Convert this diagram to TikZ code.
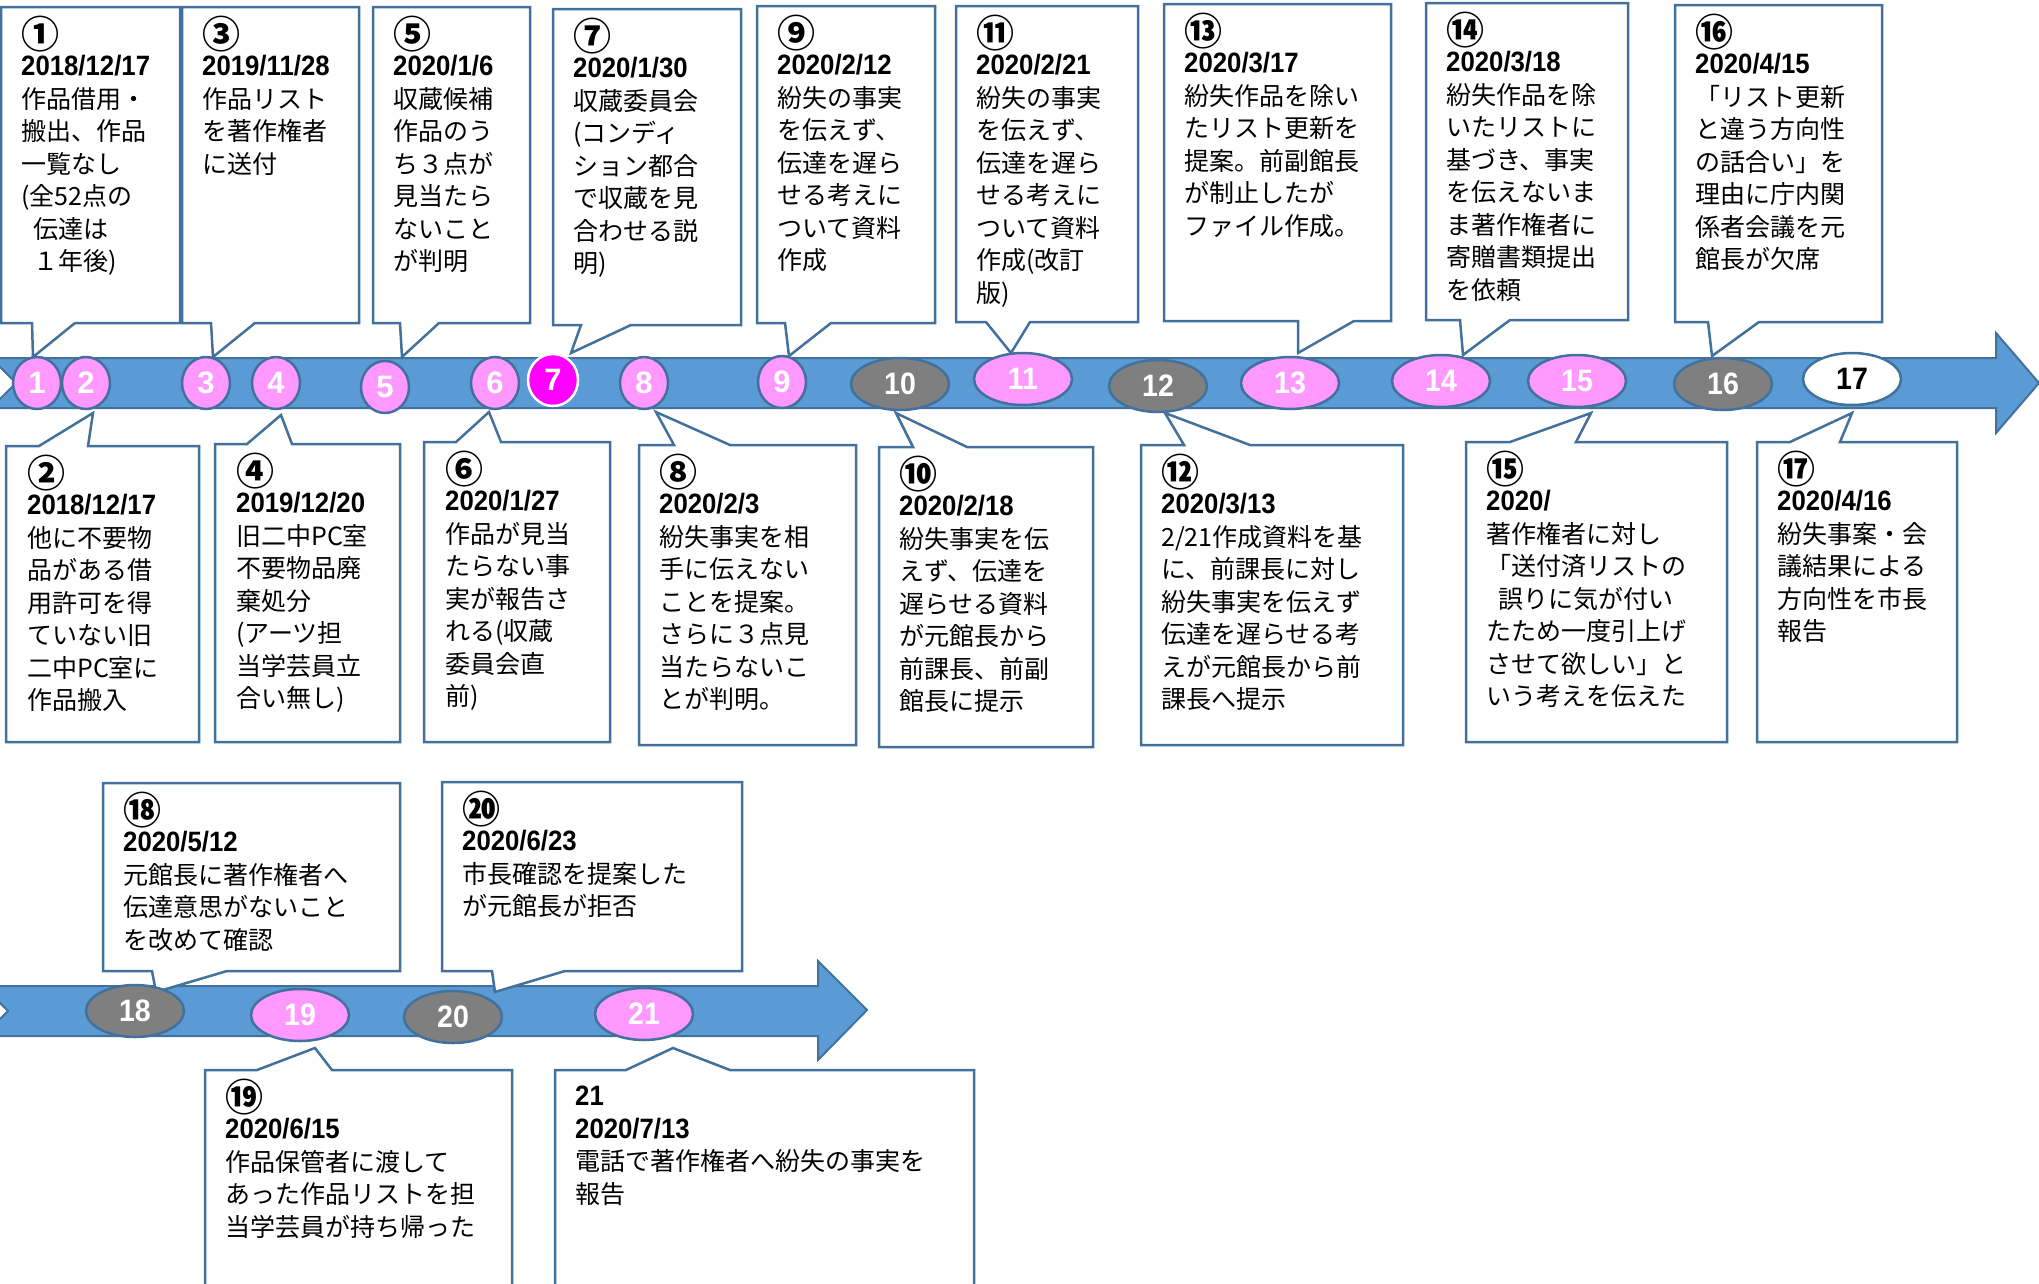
\documentclass[tikz,border=0pt]{standalone}
\usepackage{fontspec}
\newfontfamily\jp{Noto Sans CJK JP}
\newfontfamily\dtf[FakeStretch=0.92]{Liberation Sans}
\newfontfamily\arialf{Liberation Sans}
\usetikzlibrary{shapes.geometric}
\definecolor{bandfill}{HTML}{5B9BD5}
\definecolor{bandline}{HTML}{41719C}
\definecolor{boxline}{HTML}{41719C}
\definecolor{pinkf}{HTML}{FF99FF}
\definecolor{grayf}{HTML}{7F7F7F}
\definecolor{magf}{HTML}{FF00FF}
% callout with pointer on the bottom edge: x0 y0 x1 y1 base1 base2 tipx tipy
\newcommand{\calloutA}[8]{\filldraw[cbox] (#1,#2) -- (#3,#2) -- (#3,#4) -- (#6,#4) -- (#7,#8) -- (#5,#4) -- (#1,#4) -- cycle;}
% callout with pointer on the top edge
\newcommand{\calloutB}[8]{\filldraw[cbox] (#1,#2) -- (#5,#2) -- (#7,#8) -- (#6,#2) -- (#3,#2) -- (#3,#4) -- (#1,#4) -- cycle;}
\newcommand{\mydate}[1]{{\dtf\bfseries\fontsize{28}{32.5}\selectfont #1}}
\newcommand{\circnum}[1]{\raisebox{-5pt}[20pt][0pt]{\bfseries\fontsize{38}{38}\selectfont #1}}
\begin{document}
\begin{tikzpicture}[x=1pt,y=-1pt,
  cbox/.style={fill=white,draw=boxline,line width=2.5pt,line join=miter},
  txt/.style={anchor=north west,inner sep=0pt,align=left,font=\jp\fontsize{25}{32.5}\selectfont},
  ev/.style={ellipse,draw=bandline,line width=2.5pt,inner sep=0pt,minimum height=52pt},
  sm/.style={ev,minimum width=48pt,fill=pinkf,text=white,font=\arialf\bfseries\fontsize{31}{31}\selectfont},
  wd/.style={ev,minimum width=98pt,text=white,font=\dtf\bfseries\fontsize{31}{31}\selectfont},
  pk/.style={wd,fill=pinkf},
  gy/.style={wd,fill=grayf}]
\useasboundingbox (0,0) rectangle (2039,1283);
\fill[white] (0,0) rectangle (2039,1283);

% bands
\filldraw[fill=bandfill,draw=bandline,line width=2pt,line join=miter]
  (-9,358) -- (1996,358) -- (1996,333) -- (2039,383) -- (1996,433) -- (1996,408) -- (-9,408) -- (16,383) -- cycle;
\filldraw[fill=bandfill,draw=bandline,line width=2pt,line join=miter]
  (-17,986) -- (818,986) -- (818,961) -- (867,1010) -- (818,1060) -- (818,1036) -- (-17,1036) -- (8,1011) -- cycle;

% top callouts
\calloutA{1}{7}{180}{323}{32}{75}{33}{357}
\calloutA{182}{7}{359}{323}{211}{255}{213}{357}
\calloutA{373}{7}{530}{323}{400}{439}{402}{357}
\calloutA{553}{9}{741}{325}{581}{631}{571}{353}
\calloutA{757}{6}{935}{323}{785}{831}{789}{356}
\calloutA{956}{6}{1138}{322}{986}{1030}{1011}{353}
\calloutA{1164}{4}{1391}{321}{1298}{1354}{1298}{353}
\calloutA{1426}{3}{1628}{320}{1460}{1510}{1463}{355}
\calloutA{1675}{5}{1882}{322}{1708}{1759}{1712}{356}
% bottom callouts
\calloutB{6}{446}{199}{742}{39}{88}{93}{413}
\calloutB{215}{444}{400}{742}{247}{292}{281}{415}
\calloutB{424}{442}{610}{742}{456}{501}{489}{412}
\calloutB{639}{445}{856}{745}{674}{730}{656}{412}
\calloutB{879}{447}{1093}{747}{913}{967}{896}{413}
\calloutB{1141}{445}{1403}{745}{1184}{1250}{1165}{413}
\calloutB{1466}{442}{1727}{742}{1510}{1576}{1591}{413}
\calloutB{1757}{442}{1957}{742}{1790}{1840}{1852}{413}
% second row
\calloutA{103}{783}{400}{971}{152}{227}{156}{992}
\calloutA{442}{782}{742}{971}{492}{565}{495}{992}
\calloutB{205}{1070}{512}{1300}{257}{332}{315}{1048}
\calloutB{555}{1070}{974}{1300}{626}{730}{673}{1048}

% texts
\node[txt] (c1) at (21,23) {\circnum{①}\\\mydate{2018/12/17}\\作品借用・\\搬出、作品\\一覧なし\\(全52点の\\\hspace{0.5em}伝達は\\\hspace{0.5em}１年後)};
\node[txt] (c3) at (202,23) {\circnum{③}\\\mydate{2019/11/28}\\作品リスト\\を著作権者\\に送付};
\node[txt] (c5) at (393,23) {\circnum{⑤}\\\mydate{2020/1/6}\\収蔵候補\\作品のう\\ち３点が\\見当たら\\ないこと\\が判明};
\node[txt] (c7) at (573,25) {\circnum{⑦}\\\mydate{2020/1/30}\\収蔵委員会\\(コンディ\\ション都合\\で収蔵を見\\合わせる説\\明)};
\node[txt] (c9) at (777,22) {\circnum{⑨}\\\mydate{2020/2/12}\\紛失の事実\\を伝えず、\\伝達を遅ら\\せる考えに\\ついて資料\\作成};
\node[txt] (c11) at (976,22) {\circnum{⑪}\\\mydate{2020/2/21}\\紛失の事実\\を伝えず、\\伝達を遅ら\\せる考えに\\ついて資料\\作成(改訂\\版)};
\node[txt] (c13) at (1184,20) {\circnum{⑬}\\\mydate{2020/3/17}\\紛失作品を除い\\たリスト更新を\\提案。前副館長\\が制止したが\\ファイル作成。};
\node[txt] (c14) at (1446,19) {\circnum{⑭}\\\mydate{2020/3/18}\\紛失作品を除\\いたリストに\\基づき、事実\\を伝えないま\\ま著作権者に\\寄贈書類提出\\を依頼};
\node[txt] (c16) at (1695,21) {\circnum{⑯}\\\mydate{2020/4/15}\\「リスト更新\\と違う方向性\\の話合い」を\\理由に庁内関\\係者会議を元\\館長が欠席};

\node[txt] (c2) at (27,462) {\circnum{②}\\\mydate{2018/12/17}\\他に不要物\\品がある借\\用許可を得\\ていない旧\\二中PC室に\\作品搬入};
\node[txt] (c4) at (236,460) {\circnum{④}\\\mydate{2019/12/20}\\旧二中PC室\\不要物品廃\\棄処分\\(アーツ担\\当学芸員立\\合い無し)};
\node[txt] (c6) at (445,458) {\circnum{⑥}\\\mydate{2020/1/27}\\作品が見当\\たらない事\\実が報告さ\\れる(収蔵\\委員会直\\前)};
\node[txt] (c8) at (659,461) {\circnum{⑧}\\\mydate{2020/2/3}\\紛失事実を相\\手に伝えない\\ことを提案。\\さらに３点見\\当たらないこ\\とが判明。};
\node[txt] (c10) at (899,463) {\circnum{⑩}\\\mydate{2020/2/18}\\紛失事実を伝\\えず、伝達を\\遅らせる資料\\が元館長から\\前課長、前副\\館長に提示};
\node[txt] (c12) at (1161,461) {\circnum{⑫}\\\mydate{2020/3/13}\\2/21作成資料を基\\に、前課長に対し\\紛失事実を伝えず\\伝達を遅らせる考\\えが元館長から前\\課長へ提示};
\node[txt] (c15) at (1486,458) {\circnum{⑮}\\\mydate{2020/}\\著作権者に対し\\「送付済リストの\\\hspace{0.5em}誤りに気が付い\\たため一度引上げ\\させて欲しい」と\\いう考えを伝えた};
\node[txt] (c17) at (1777,458) {\circnum{⑰}\\\mydate{2020/4/16}\\紛失事案・会\\議結果による\\方向性を市長\\報告};

\node[txt] (c18) at (123,799) {\circnum{⑱}\\\mydate{2020/5/12}\\元館長に著作権者へ\\伝達意思がないこと\\を改めて確認};
\node[txt] (c20) at (462,798) {\circnum{⑳}\\\mydate{2020/6/23}\\市長確認を提案した\\が元館長が拒否};
\node[txt] (c19) at (225,1086) {\circnum{⑲}\\\mydate{2020/6/15}\\作品保管者に渡して\\あった作品リストを担\\当学芸員が持ち帰った};
\node[txt] (c21) at (575,1086) {\mydate{21}\\\mydate{2020/7/13}\\電話で著作権者へ紛失の事実を\\報告};

% ellipses
\node[sm] (e1) at (37,383) {1};
\node[sm] (e2) at (86,383) {2};
\node[sm] (e3) at (206,383) {3};
\node[sm] (e4) at (276,383) {4};
\node[sm] (e5) at (385,387) {5};
\node[sm] (e6) at (495,383) {6};
\node[sm,minimum width=50pt,fill=magf,draw=white] (e7) at (553,380) {7};
\node[sm] (e8) at (644,383) {8};
\node[sm] (e9) at (782,382) {9};
\node[gy] (e10) at (900,384) {10};
\node[pk] (e11) at (1023,379) {11};
\node[gy] (e12) at (1158,386) {12};
\node[pk] (e13) at (1290,383) {13};
\node[pk] (e14) at (1441,381) {14};
\node[pk] (e15) at (1577,381) {15};
\node[gy] (e16) at (1723,384) {16};
\node[wd,fill=white,text=black] (e17) at (1852,379) {17};
\node[gy] (e18) at (135,1011) {18};
\node[pk] (e19) at (300,1015) {19};
\node[gy] (e20) at (453,1017) {20};
\node[pk] (e21) at (644,1014) {21};
\end{tikzpicture}
\end{document}
